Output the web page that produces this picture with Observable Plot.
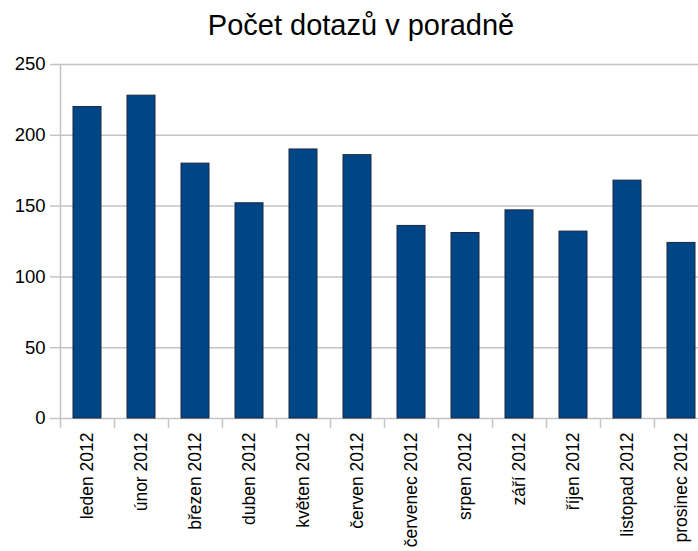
<!DOCTYPE html>
<html>
<head>
<meta charset="utf-8">
<script src="https://cdn.jsdelivr.net/npm/d3@7"></script>
<script src="https://cdn.jsdelivr.net/npm/@observablehq/plot@0.6"></script>
<style>
  html, body { margin: 0; padding: 0; background: #fff; overflow: hidden; width: 698px; height: 551px; }
  #wrap { position: relative; width: 698px; height: 551px; overflow: hidden; }
  #title { position: absolute; left: 0; top: 0; width: 722px; height: 50px; text-align: center;
           font-family: "Liberation Sans", Arial, sans-serif; font-size: 29px; line-height: 50px; color: #000; }
  #chart { position: absolute; left: 0; top: 50px; width: 710px; }
  #chart svg { max-width: none !important; }
</style>
</head>
<body>
<div id="wrap">
  <div id="title">Počet dotazů v poradně</div>
  <div id="chart"></div>
</div>
<script>
const months = ["leden 2012", "únor 2012", "březen 2012", "duben 2012", "květen 2012", "červen 2012",
                "červenec 2012", "srpen 2012", "září 2012", "říjen 2012", "listopad 2012", "prosinec 2012"];
const counts = [220, 228, 180, 152, 190, 186, 136, 131, 147, 132, 168, 124];
const yTicks = [0, 50, 100, 150, 200, 250];

const data = months.map((m, i) => ({month: m, count: counts[i]}));

const width = 710, marginLeft = 60, marginRight = 2;
const step = (width - marginLeft - marginRight) / months.length;

const chart = Plot.plot({
  width,
  height: 501,
  marginTop: 14,
  marginBottom: 133,
  marginLeft,
  marginRight,
  style: {fontFamily: "'Liberation Sans', Arial, sans-serif", color: "#000", background: "#fff", overflow: "visible", maxWidth: "none"},
  x: {domain: months, paddingInner: 0.48, paddingOuter: 0.24, label: null},
  y: {domain: [0, 250], label: null},
  marks: [
    Plot.ruleY(yTicks, {stroke: "#c4c4c4", strokeWidth: 1.5}),
    Plot.ruleX([months[0]], {x: d => d, dx: -step / 2, y1: 0, y2: 250, stroke: "#c4c4c4", strokeWidth: 1.5}),
    Plot.ruleX(months, {x: d => d, dx: -step / 2, y1: 0, y2: -7, stroke: "#c4c4c4", strokeWidth: 1.5}),
    Plot.barY(data, {x: "month", y: "count", fill: "#004586", stroke: "#1c2a44", strokeWidth: 1}),
    Plot.axisY(yTicks, {tickSize: 10, tickPadding: 5, fontSize: 18.5, stroke: "#c4c4c4", strokeWidth: 1.5, strokeOpacity: 1, label: null}),
    Plot.axisX({tickRotate: -90, tickSize: 0, tickPadding: 14, fontSize: 17.5, label: null})
  ]
});
document.getElementById("chart").appendChild(chart);
</script>
</body>
</html>
